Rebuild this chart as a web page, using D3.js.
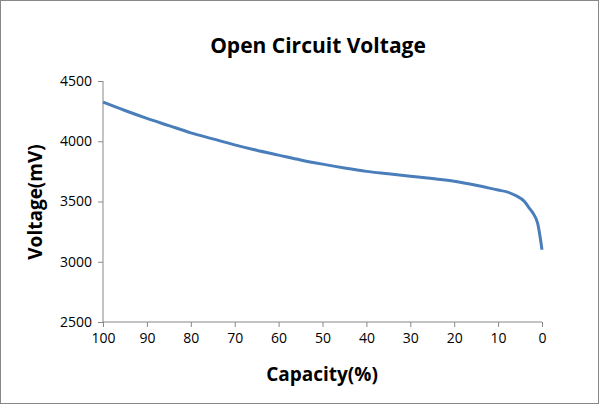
<!DOCTYPE html>
<html><head><meta charset="UTF-8">
<script src="https://d3js.org/d3.v7.min.js"></script>
<style>body{margin:0;background:#fff}text{font-family:"Open Sans",sans-serif}</style>
</head><body>
<script>
var capacity = [100, 95, 90, 85, 80, 75, 70, 65, 60, 55, 50, 45, 40, 35, 30, 25, 20, 15, 10, 8, 6, 4, 3, 2, 1, 0];
var voltage = [4325, 4255, 4190, 4130, 4070, 4020, 3970, 3925, 3885, 3845, 3810, 3778, 3750, 3730, 3710, 3690, 3668, 3635, 3595, 3580, 3550, 3500, 3450, 3400, 3320, 3100];
var xTicks = [100, 90, 80, 70, 60, 50, 40, 30, 20, 10, 0];
var yTicks = [2500, 3000, 3500, 4000, 4500];

var width = 603, height = 406;
var svg = d3.select('body').append('svg').attr('width', width).attr('height', height);
svg.append('rect').attr('x', 0.5).attr('y', 0.5).attr('width', 598).attr('height', 403)
  .attr('fill', 'none').attr('stroke', '#888');

var x = d3.scaleLinear().domain([100, 0]).range([103, 542]);
var y = d3.scaleLinear().domain([2500, 4500]).range([322, 81]);

var xAxis = svg.append('g').attr('transform', 'translate(0,322)')
  .call(d3.axisBottom(x).tickValues(xTicks).tickFormat(d3.format('d')).tickSize(5).tickPadding(6));
var yAxis = svg.append('g').attr('transform', 'translate(103,0)')
  .call(d3.axisLeft(y).tickValues(yTicks).tickFormat(d3.format('d')).tickSize(5).tickPadding(6));
[xAxis, yAxis].forEach(function (g) {
  g.selectAll('path,line').attr('stroke', '#888');
  g.selectAll('text').attr('font-size', '14px').attr('fill', '#000');
  g.select('.domain').attr('d', g === xAxis ? 'M103,0H542' : 'M0,81V322');
});

svg.append('path')
  .datum(capacity.map(function (c, i) { return [c, voltage[i]]; }))
  .attr('fill', 'none').attr('stroke', '#4a7ebb').attr('stroke-width', 3)
  .attr('d', d3.line().x(function (d) { return x(d[0]); }).y(function (d) { return y(d[1]); }).curve(d3.curveMonotoneX));

svg.append('text').attr('x', 318).attr('y', 53).attr('text-anchor', 'middle')
  .attr('font-size', '21px').attr('font-weight', 'bold').text('Open Circuit Voltage');
svg.append('text').attr('x', 322).attr('y', 381).attr('text-anchor', 'middle')
  .attr('font-size', '19px').attr('font-weight', 'bold').text('Capacity(%)');
svg.append('text').attr('transform', 'translate(42,202) rotate(-90)').attr('text-anchor', 'middle')
  .attr('font-size', '19px').attr('font-weight', 'bold').text('Voltage(mV)');
</script>
</body></html>
